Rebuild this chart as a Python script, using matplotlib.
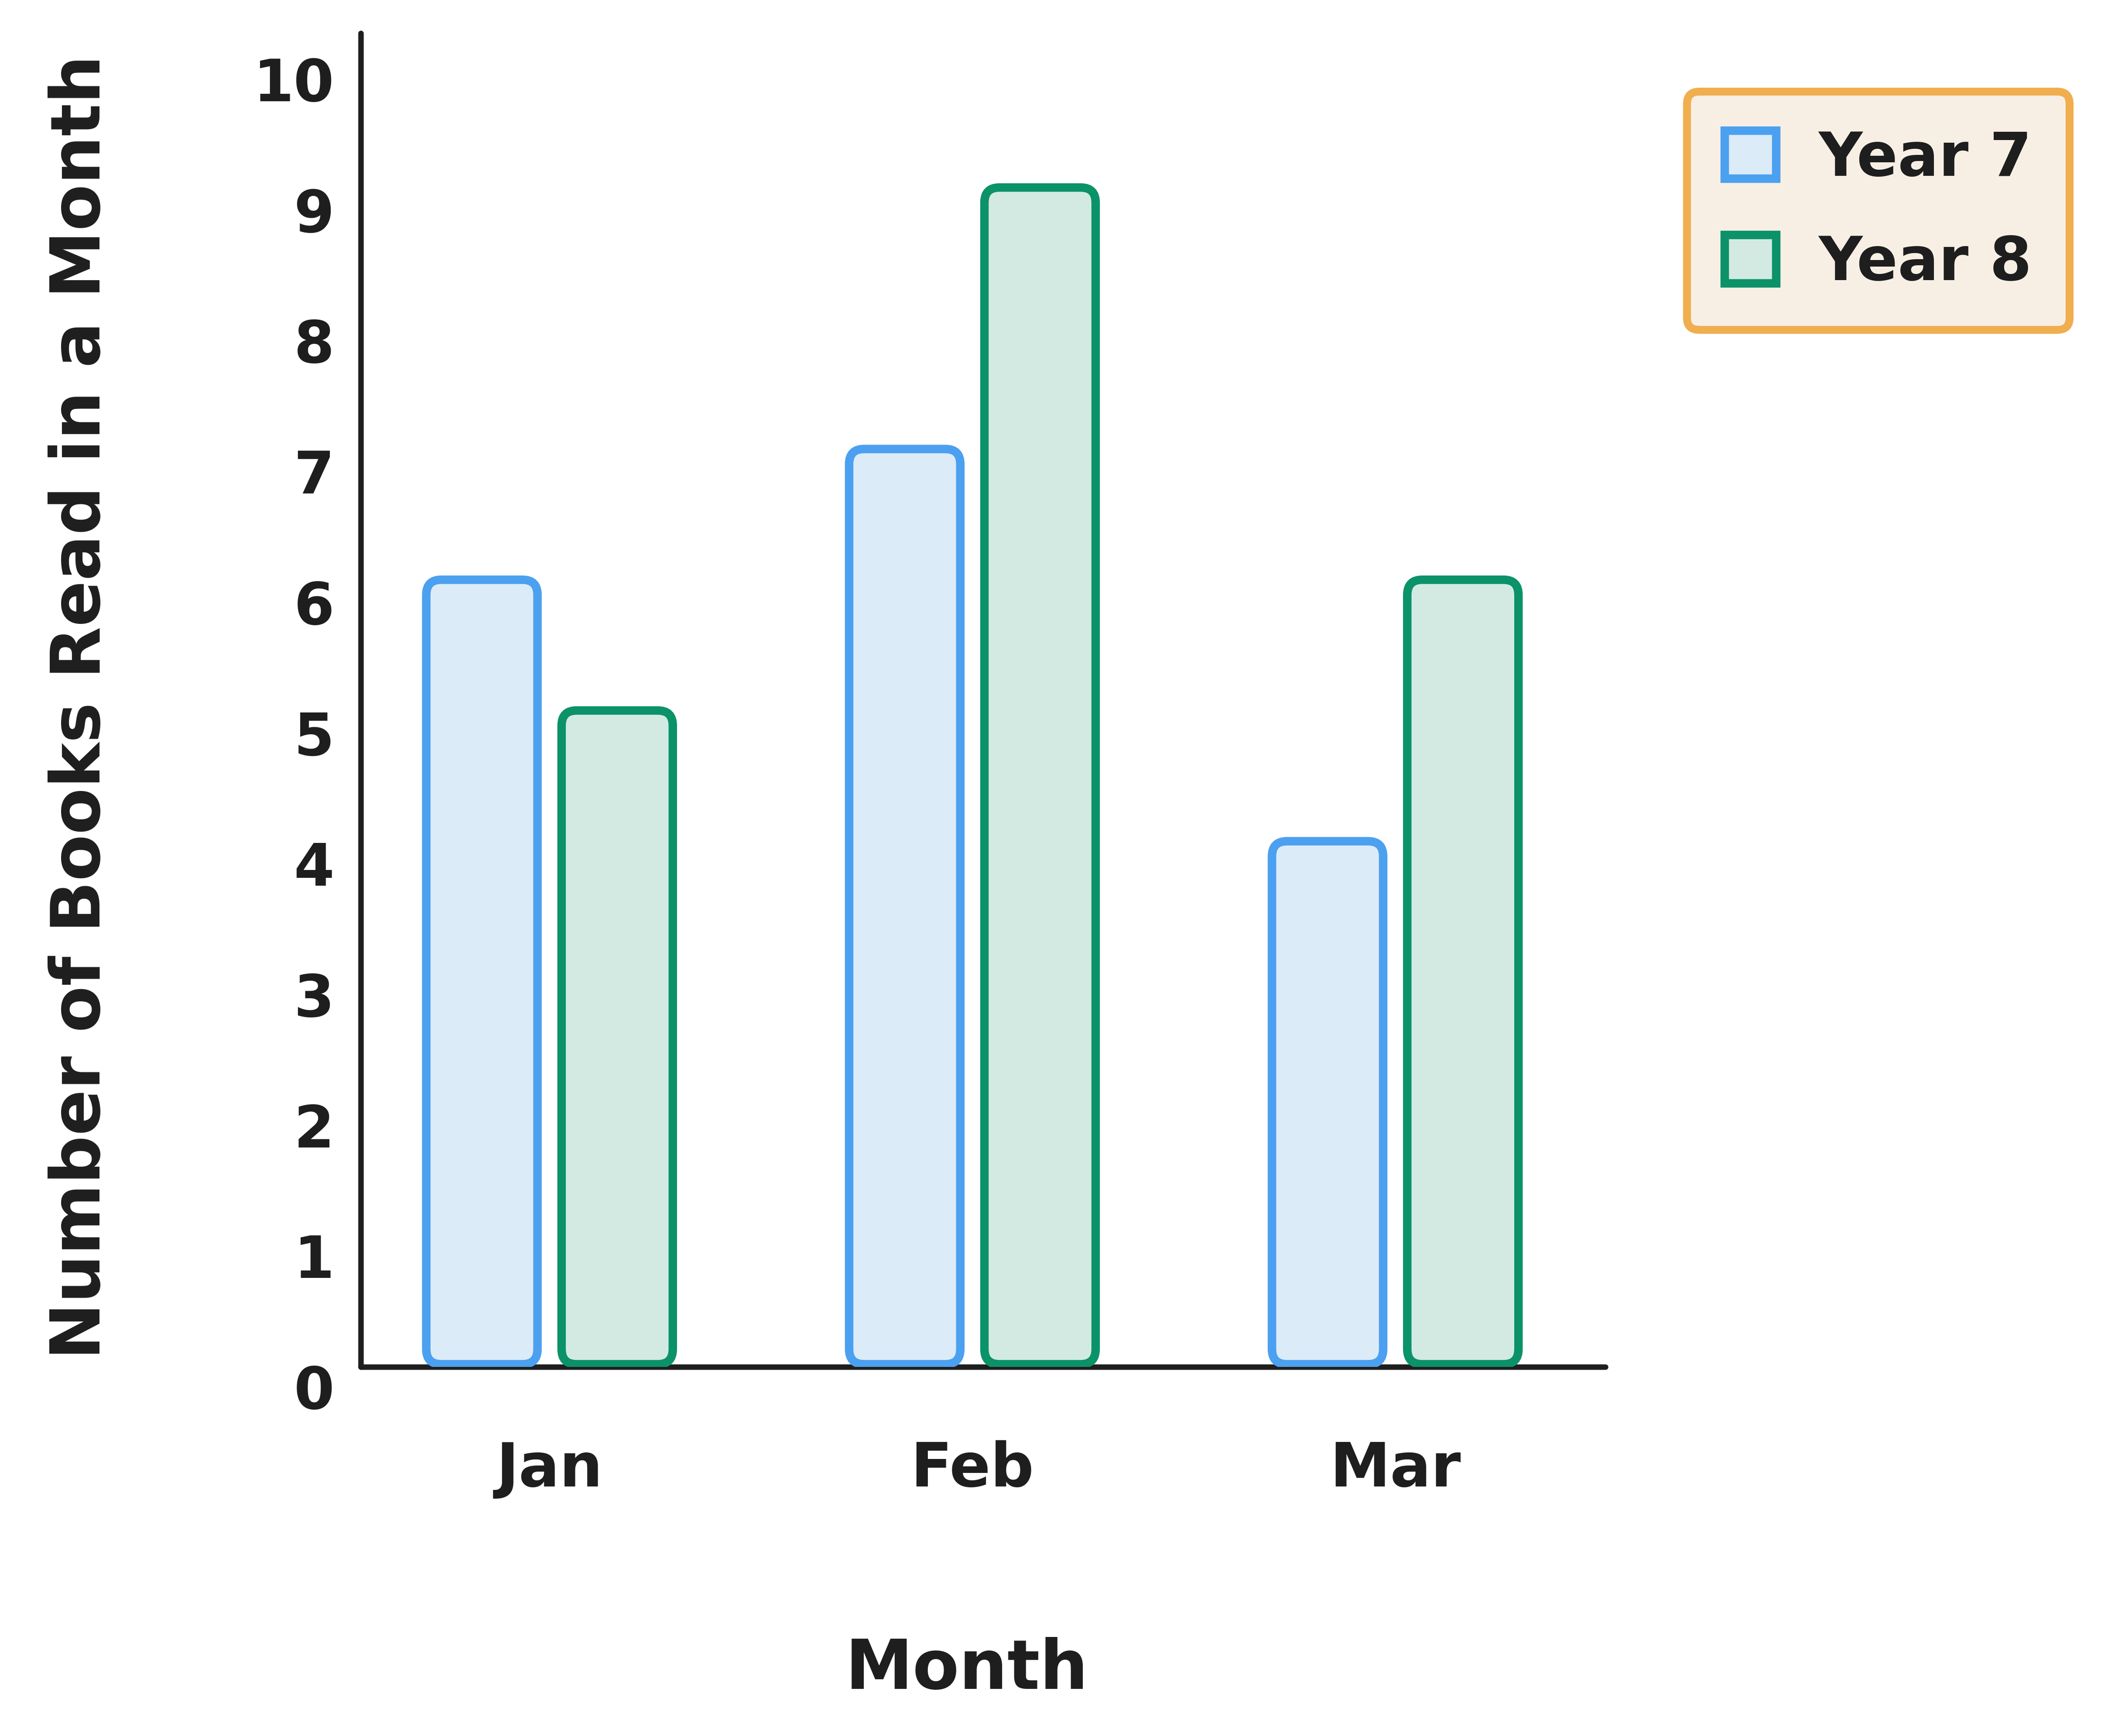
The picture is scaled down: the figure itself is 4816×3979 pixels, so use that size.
import numpy as np
import matplotlib.pyplot as plt
from matplotlib.patches import FancyBboxPatch, Patch
from matplotlib.transforms import ScaledTranslation

months = ["Jan", "Feb", "Mar"]
year7 = [6, 7, 4]
year8 = [5, 9, 6]
series_names = ["Year 7", "Year 8"]
yticks = list(range(0, 11))

edge_cols = ["#4ba0f0", "#0b9269"]
fill_cols = ["#dcebf8", "#d3eae3"]
ink = "#1e1e1e"

plt.rcParams['font.family'] = ['DejaVu Sans']

fig = plt.figure(figsize=(24.08, 19.9), dpi=200)
ax = fig.add_axes([0.1718, 0.2126, 0.5923, 0.768])

x = np.arange(len(months))
w = 0.263
off = 0.16

# plain bars first (invisible), then rounded boxes on top of the same geometry
for vals, sgn, ec, fc in zip([year7, year8], [-1, 1], edge_cols, fill_cols):
  bars = ax.bar(x + sgn*off, vals, width=w, alpha=0)
  for b in bars:
    p = FancyBboxPatch((b.get_x(), b.get_y()), b.get_width(), b.get_height(),
                       boxstyle="round,pad=0,rounding_size=0.035",
                       mutation_aspect=3.3, fc=fc, ec=ec, lw=7, zorder=3)
    ax.add_patch(p)

ax.set_xlim(-0.446, 2.497)
ax.set_ylim(-0.02, 10.18)

for s in ["top", "right"]:
  ax.spines[s].set_visible(False)
for s in ["left", "bottom"]:
  ax.spines[s].set_linewidth(4.5)
  ax.spines[s].set_color(ink)
  ax.spines[s].set_capstyle("round")

ax.set_yticks(yticks)
ax.set_yticklabels([str(t) for t in yticks])
ax.set_xticks(x)
ax.set_xticklabels(months)
ax.tick_params(axis="y", length=0, pad=22, labelsize=48, labelcolor=ink)
ax.tick_params(axis="x", length=0, pad=60, labelsize=50, labelcolor=ink)
for lab in ax.get_yticklabels():
  lab.set_fontweight("bold")
  lab.set_transform(lab.get_transform() + ScaledTranslation(0, -0.25, fig.dpi_scale_trans))
for lab in ax.get_xticklabels():
  lab.set_fontweight("bold")

ax.set_xlabel("Month", fontsize=56, fontweight="bold", color=ink)
ax.xaxis.set_label_coords(0.487, -0.227)
ax.xaxis.label.set_va("center")
ax.set_ylabel("Number of Books Read in a Month", fontsize=56, fontweight="bold", color=ink)
ax.yaxis.set_label_coords(-0.225, 0.495)
ax.yaxis.label.set_va("center")

handles = [Patch(fc=fc, ec=ec, lw=7) for fc, ec in zip(fill_cols, edge_cols)]
leg = fig.legend(handles, series_names, loc="upper left", bbox_to_anchor=(0.803, 0.947),
                 prop={"weight": "bold", "size": 50}, handlelength=0.85, handleheight=0.85,
                 handletextpad=0.7, labelspacing=0.75, borderpad=0.62, borderaxespad=0,
                 fancybox=True, framealpha=1)
leg.get_frame().set_facecolor("#f8efe4")
leg.get_frame().set_edgecolor("#f0ae4f")
leg.get_frame().set_linewidth(6.5)
for t in leg.get_texts():
  t.set_color(ink)

fig.savefig("out.png", dpi=200, facecolor="white")
